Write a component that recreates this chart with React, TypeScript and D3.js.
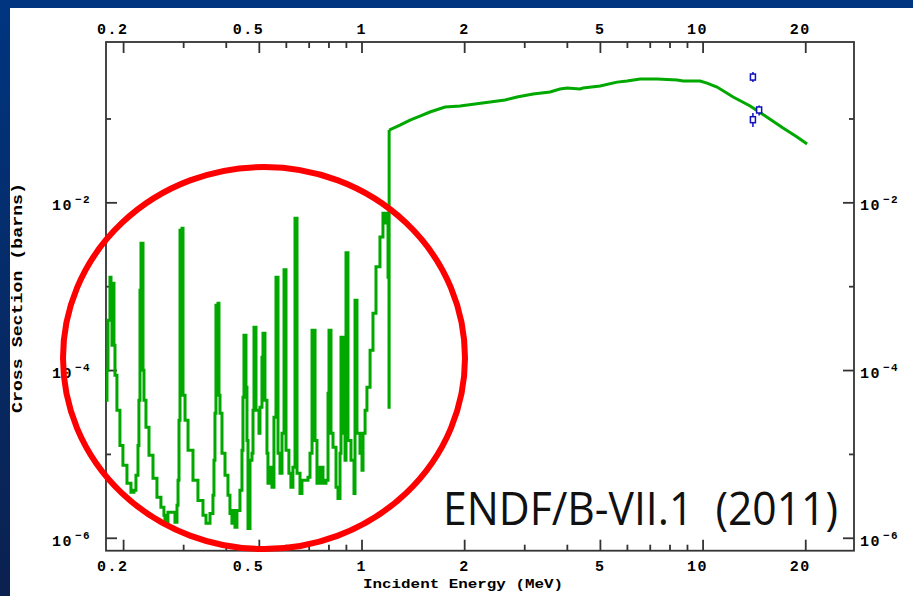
import React from 'react';
import * as d3 from 'd3';

// evaluated cross section (MeV, barns)
const energyMeV = [
  0.1776, 0.1788, 0.18, 0.1824, 0.1837, 0.1849, 0.1862, 0.1874, 0.1887, 0.1912,
  0.1951, 0.1991, 0.2046, 0.2102, 0.2145, 0.2174, 0.2204, 0.2218, 0.2234, 0.2249,
  0.2264, 0.228, 0.2295, 0.2326, 0.2374, 0.2439, 0.2505, 0.2573, 0.2626, 0.2644,
  0.2698, 0.2791, 0.2829, 0.2868, 0.2888, 0.2907, 0.2927, 0.2967, 0.2987, 0.3028,
  0.309, 0.3195, 0.3304, 0.3418, 0.3488, 0.3584, 0.3656, 0.3681, 0.3706, 0.3731,
  0.3782, 0.3808, 0.3834, 0.3886, 0.3966, 0.4046, 0.4101, 0.4156, 0.4185, 0.4242,
  0.4299, 0.4387, 0.4447, 0.4477, 0.4508, 0.4569, 0.46, 0.4632, 0.4695, 0.4758,
  0.4791, 0.4823, 0.4889, 0.4988, 0.5022, 0.509, 0.5125, 0.5194, 0.5264, 0.53,
  0.5373, 0.5445, 0.5519, 0.5595, 0.5672, 0.5749, 0.5827, 0.5907, 0.5987, 0.6105,
  0.6188, 0.6273, 0.6362, 0.6449, 0.658, 0.6668, 0.6806, 0.6945, 0.704, 0.7137,
  0.7283, 0.7379, 0.7532, 0.7685, 0.7843, 0.795, 0.8003, 0.8111, 0.8222, 0.8391,
  0.8503, 0.862, 0.8678, 0.8796, 0.8916, 0.8976, 0.9097, 0.9284, 0.9474, 0.9539,
  0.9667, 0.9865, 1.0, 1.007, 1.021, 1.034, 1.056, 1.077, 1.099, 1.129,
  1.152, 1.168, 1.184, 1.192, 1.2, 1.201, 1.292, 1.383, 1.479, 1.582,
  1.752, 1.939, 2.145, 2.374, 2.627, 2.848, 3.174, 3.558, 3.807, 3.992,
  4.358, 4.448, 4.989, 5.595, 5.986, 6.536, 7.333, 8.391, 8.739, 9.799,
  10.27, 10.99, 12.25, 13.74, 15.41, 17.16, 18.87, 20.18,
];
const crossSection = [
  4.42e-5, 1.01e-4, 3.98e-4, 1.3e-3, 1.04e-3, 2.0e-4, 1.1e-3, 2.0e-4, 8.79e-5, 3.36e-5,
  1.28e-5, 7.41e-6, 4.52e-6, 3.53e-6, 3.73e-6, 5.63e-6, 1.28e-5, 4.42e-5, 9.08e-4, 3.3e-3,
  3.3e-3, 1.01e-4, 4.42e-5, 2.11e-5, 9.76e-6, 5.19e-6, 3.08e-6, 2.34e-6, 1.88e-6, 1.55e-6,
  2.04e-6, 2.04e-6, 1.55e-6, 2.47e-6, 4.91e-6, 2.55e-5, 4.72e-3, 4.99e-3, 5.07e-5, 2.55e-5,
  1.12e-5, 4.91e-6, 2.83e-6, 1.88e-6, 1.51e-6, 1.98e-6, 3.25e-6, 8.5e-6, 3.09e-5, 6.01e-4,
  6.35e-4, 5.07e-5, 3.09e-5, 1.03e-5, 5.63e-6, 3.25e-6, 1.98e-6, 1.51e-6, 2.15e-6, 1.35e-6,
  2.15e-6, 3.73e-6, 1.12e-5, 4.8e-5, 2.64e-4, 6.32e-5, 1.47e-5, 1.31e-6, 8.5e-6, 1.03e-5,
  3.36e-5, 3.28e-4, 3.36e-5, 1.79e-5, 3.65e-5, 1.44e-4, 2.79e-4, 4.42e-5, 1.03e-5, 4.52e-6,
  7.02e-6, 4.05e-6, 2.77e-5, 1.3e-3, 1.03e-5, 5.95e-6, 1.79e-5, 1.59e-3, 1.12e-5, 5.95e-6,
  4.05e-6, 7.02e-6, 6.57e-3, 5.95e-6, 3.43e-6, 4.91e-6, 4.91e-6, 5.33e-6, 1.03e-5, 3.03e-4,
  1.47e-5, 4.52e-6, 7.02e-6, 4.52e-6, 4.91e-6, 5.36e-5, 3.03e-4, 1.79e-5, 1.22e-5, 4.05e-6,
  2.99e-6, 1.03e-5, 2.5e-4, 1.79e-5, 8.5e-6, 2.54e-3, 1.47e-5, 8.5e-6, 3.43e-6, 6.9e-4,
  1.79e-5, 1.03e-5, 6.46e-6, 1.79e-5, 3.36e-5, 6.32e-5, 1.75e-4, 4.83e-4, 1.73e-3, 3.9e-3,
  7.53e-3, 5.73e-3, 7.53e-3, 1.3e-3, 3.65e-5, 0.0737, 0.0846, 0.097, 0.108, 0.121,
  0.139, 0.143, 0.151, 0.159, 0.168, 0.183, 0.198, 0.21, 0.228, 0.234,
  0.228, 0.234, 0.247, 0.275, 0.283, 0.299, 0.299, 0.291, 0.283, 0.283,
  0.268, 0.24, 0.183, 0.143, 0.105, 0.0778, 0.0608, 0.0502,
];
// the (n,n') threshold where the resonance region ends
const thresholdMeV = 1.201;

// measured points near 14 MeV
const expEnergy = [14.0, 14.0, 14.6];
const expSigma = [0.316, 0.098, 0.128];
const expLow = [0.275, 0.08, 0.11];
const expHigh = [0.363, 0.118, 0.145];

const xMajor = [0.2, 0.5, 1, 2, 5, 10, 20];
const xMajorLabels = ['0.2', '0.5', '1', '2', '5', '10', '20'];
const xMinor = [0.3, 0.4, 0.6, 0.7, 0.8, 0.9, 3, 4, 6, 7, 8, 9];
const yMajor = [1e-2, 1e-4, 1e-6];
const yMajorExp = ['−2', '−4', '−6'];
const yMinor = [1e-1, 1e-3, 1e-5];

const W = 913;
const H = 596;
const plot = { left: 106, right: 854, top: 42, bottom: 550.7 };

const mono = "'Liberation Mono', 'DejaVu Sans Mono', monospace";

export default function App() {
  const x = d3.scaleLog().domain([0.1776, 27.7]).range([plot.left, plot.right]);
  const y = d3.scaleLog().domain([7.11e-7, 0.8274]).range([plot.bottom, plot.top]);

  const pts: [number, number][] = energyMeV.map((e, i) => [e, crossSection[i]]);
  const resonance = pts.filter(d => d[0] <= thresholdMeV);
  const continuum = pts.filter(d => d[0] >= thresholdMeV);
  // resonance region looks like a stepped histogram in the original
  const stepLine = d3.line<[number, number]>().curve(d3.curveStepAfter).x(d => x(d[0])).y(d => y(d[1]));
  const smoothLine = d3.line<[number, number]>().x(d => x(d[0])).y(d => y(d[1]));

  const frame = '#333';
  const tickLabel = { fontFamily: mono, fontWeight: 700, fontSize: 15, letterSpacing: 1.5, fill: '#000' };

  return (
    <svg width={W} height={H} style={{ position: 'fixed', left: 0, top: 0, display: 'block' }}>
      <defs>
        <linearGradient id="slide" x1="0" y1="0" x2="0" y2="1">
          <stop offset="0%" stopColor="#003580" />
          <stop offset="100%" stopColor="#0b2150" />
        </linearGradient>
        <clipPath id="plotClip">
          <rect x={plot.left} y={plot.top} width={plot.right - plot.left} height={plot.bottom - plot.top} />
        </clipPath>
      </defs>
      <rect x={0} y={0} width={W} height={H} fill="url(#slide)" />
      <rect x={10} y={8} width={W - 10} height={H - 8} fill="#fff" />

      {/* frame */}
      <rect x={plot.left} y={plot.top} width={plot.right - plot.left} height={plot.bottom - plot.top}
        fill="none" stroke={frame} strokeWidth={1.8} />

      {/* x ticks top + bottom */}
      {xMajor.map(t => (
        <g key={'xM' + t}>
          <line x1={x(t)} x2={x(t)} y1={plot.top} y2={plot.top + 11} stroke={frame} strokeWidth={1.8} />
          <line x1={x(t)} x2={x(t)} y1={plot.bottom} y2={plot.bottom - 11} stroke={frame} strokeWidth={1.8} />
        </g>
      ))}
      {xMinor.map(t => (
        <g key={'xm' + t}>
          <line x1={x(t)} x2={x(t)} y1={plot.top} y2={plot.top + 6} stroke={frame} strokeWidth={1.8} />
          <line x1={x(t)} x2={x(t)} y1={plot.bottom} y2={plot.bottom - 6} stroke={frame} strokeWidth={1.8} />
        </g>
      ))}
      {xMajorLabels.map((l, i) => (
        <g key={'xl' + l}>
          <text x={x(xMajor[i]) + 5} y={34} textAnchor="end" style={tickLabel}>{l}</text>
          <text x={x(xMajor[i]) + 5} y={571} textAnchor="end" style={tickLabel}>{l}</text>
        </g>
      ))}

      {/* y ticks left + right */}
      {yMajor.map(t => (
        <g key={'yM' + t}>
          <line x1={plot.left} x2={plot.left + 11} y1={y(t)} y2={y(t)} stroke={frame} strokeWidth={1.8} />
          <line x1={plot.right} x2={plot.right - 11} y1={y(t)} y2={y(t)} stroke={frame} strokeWidth={1.8} />
        </g>
      ))}
      {yMinor.map(t => (
        <g key={'ym' + t}>
          <line x1={plot.left} x2={plot.left + 5} y1={y(t)} y2={y(t)} stroke={frame} strokeWidth={1.8} />
          <line x1={plot.right} x2={plot.right - 5} y1={y(t)} y2={y(t)} stroke={frame} strokeWidth={1.8} />
        </g>
      ))}
      {yMajor.map((t, i) => (
        <g key={'yl' + t}>
          <text x={52} y={y(t) + 7.5} style={tickLabel}>
            10<tspan dx={2} dy={-7} fontSize={11}>{yMajorExp[i]}</tspan>
          </text>
          <text x={860} y={y(t) + 7.5} style={tickLabel}>
            10<tspan dx={2} dy={-7} fontSize={11}>{yMajorExp[i]}</tspan>
          </text>
        </g>
      ))}

      {/* axis titles */}
      <text x={463} y={588} textAnchor="middle" textLength={200} lengthAdjust="spacingAndGlyphs"
        style={{ fontFamily: mono, fontWeight: 700, fontSize: 13, fill: '#000' }}>
        Incident Energy (MeV)
      </text>
      <text transform="translate(22,298) rotate(-90)" textAnchor="middle" textLength={230} lengthAdjust="spacingAndGlyphs"
        style={{ fontFamily: mono, fontWeight: 700, fontSize: 14, fill: '#000' }}>
        Cross Section (barns)
      </text>

      {/* evaluated curve */}
      <g clipPath="url(#plotClip)" fill="none" stroke="#00a800" strokeWidth={3}>
        <path d={stepLine(resonance) || ''} />
        <path d={smoothLine(continuum) || ''} />
      </g>

      {/* experimental points */}
      {expEnergy.map((e, i) => (
        <g key={'exp' + i} stroke="#1010c0" strokeWidth={1.5} fill="none">
          <line x1={x(e)} x2={x(e)} y1={y(expLow[i])} y2={y(expHigh[i])} />
          <rect x={x(e) - 2.5} y={y(expSigma[i]) - 3} width={5} height={6} fill="#fff" />
        </g>
      ))}

      {/* annotation */}
      <ellipse cx={264} cy={358} rx={201} ry={191} fill="none" stroke="#ff0000" strokeWidth={6} />
      <text x={443} y={525} textLength={395} lengthAdjust="spacingAndGlyphs"
        style={{ fontFamily: "'Open Sans', 'Liberation Sans', sans-serif", fontSize: 45, fill: '#111', whiteSpace: 'pre' }}>
        {'ENDF/B-VII.1  (2011)'}
      </text>
    </svg>
  );
}
